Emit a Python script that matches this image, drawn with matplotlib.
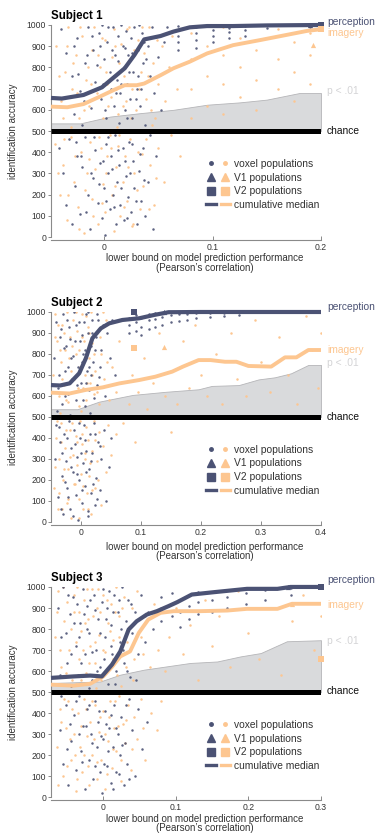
import numpy as np
import matplotlib
matplotlib.use("Agg")
import matplotlib.pyplot as plt
from matplotlib.lines import Line2D
from matplotlib.legend_handler import HandlerTuple

plt.rcParams['font.family'] = ['Liberation Sans', 'DejaVu Sans']

NAVY = "#4b5274"
PEACH = "#fdc690"
GRAY_FILL = "#d9dadc"
CHANCE = 500
YTICKS = list(range(0, 1001, 100))

# ---------------- Subject 1 ----------------
S1_PERC_X = [-0.049, -0.039, -0.019, -0.002, 0.019, 0.028, 0.037, 0.052, 0.064, 0.079, 0.095, 0.119, 0.15, 0.2]
S1_PERC_Y = [656, 653, 670, 706, 796, 859, 932, 948, 969, 989, 995, 995, 998, 1000]
S1_IMAG_X = [-0.049, -0.034, -0.019, -0.004, 0.010, 0.019, 0.030, 0.037, 0.052, 0.064, 0.079, 0.095, 0.119, 0.144, 0.168, 0.187, 0.2]
S1_IMAG_Y = [615, 612, 627, 662, 696, 716, 716, 724, 763, 796, 827, 866, 905, 929, 953, 972, 980]
S1_P01_X = [-0.049, -0.022, 0.0055, 0.033, 0.064, 0.095, 0.125, 0.15, 0.18, 0.2]
S1_P01_Y = [536, 536, 568, 584, 600, 624, 635, 648, 679, 679]
# voxel populations, x in thousandths of r
S1_NAVY = [(-40, 980), (-35, 870), (-30, 760), (-25, 940), (-22, 690), (-18, 820), (-15, 990), (-12, 610), (-10, 880), (-8, 730),
           (-5, 960), (-3, 650), (0, 840), (2, 560), (3, 920), (5, 780), (6, 700), (8, 990), (9, 620), (10, 860), (12, 740),
           (13, 950), (14, 540), (15, 680), (17, 900), (18, 800), (19, 600), (20, 970), (21, 720), (22, 860), (24, 650),
           (25, 940), (26, 560), (27, 780), (28, 990), (30, 700), (31, 880), (33, 620), (35, 960), (36, 820), (38, 530),
           (40, 900), (42, 760), (44, 990), (46, 680), (48, 950), (50, 850), (52, 600), (55, 920), (58, 990), (-28, 580),
           (-20, 530), (-2, 1000), (16, 1000), (32, 1000),
           (-28, 900), (-24, 770), (-19, 640), (-16, 860), (-11, 950), (-7, 810), (-4, 900), (-1, 720), (1, 600), (4, 990),
           (7, 880), (9, 760), (11, 680), (13, 830), (16, 720), (19, 890), (21, 560), (23, 780), (26, 870), (29, 650),
           (31, 760), (34, 700), (37, 920), (39, 840),
           (-42, 420), (-38, 300), (-35, 150), (-32, 460), (-30, 60), (-27, 240), (-25, 380), (-22, 110), (-20, 330),
           (-18, 470), (-15, 200), (-13, 40), (-10, 280), (-8, 410), (-6, 160), (-4, 350), (-2, 90), (0, 230), (1, 10),
           (2, 440), (4, 300), (5, 130), (6, 380), (8, 200), (10, 480), (11, 60), (12, 260), (14, 340), (15, 150), (17, 420),
           (18, 80), (20, 290), (22, 190), (23, 450), (25, 120), (27, 360), (28, 230), (30, 60), (32, 310), (34, 170),
           (36, 420), (38, 100), (40, 260), (42, 480), (45, 40), (48, 380),
           (-26, 450), (-21, 380), (-17, 120), (-12, 300), (-9, 470), (-5, 250), (-1, 360), (2, 170), (4, 470), (7, 320),
           (9, 140), (13, 410), (16, 230), (19, 360), (21, 90), (24, 300), (26, 440), (29, 170), (33, 390), (37, 270),
           (68, 880), (68, 920), (68, 950), (68, 975), (68, 995), (85, 890), (85, 930), (85, 960), (85, 990),
           (100, 920), (100, 950), (100, 975), (100, 995), (115, 940), (115, 965), (115, 985), (130, 950), (130, 975),
           (130, 995), (150, 985), (150, 1000), (190, 990)]
S1_PEACH = [(-44, 900), (-40, 640), (-36, 780), (-33, 990), (-30, 700), (-26, 860), (-23, 560), (-20, 950), (-17, 740),
            (-14, 620), (-11, 880), (-9, 990), (-7, 680), (-4, 800), (-1, 560), (1, 930), (3, 720), (4, 620), (7, 850),
            (9, 980), (11, 700), (13, 580), (16, 910), (18, 760), (20, 640), (23, 990), (24, 840), (26, 700), (29, 600),
            (31, 930), (34, 780), (37, 870), (39, 650), (41, 990), (45, 820), (47, 560), (50, 720), (53, 900), (56, 640),
            (60, 800), (63, 950), (67, 700), (-31, 520), (12, 520), (44, 530),
            (-42, 760), (-38, 560), (-34, 900), (-29, 820), (-25, 680), (-22, 990), (-19, 600), (-15, 800), (-12, 720),
            (-6, 860), (-2, 940), (2, 780), (6, 660), (10, 900), (14, 820), (17, 620), (21, 980), (25, 560), (28, 880),
            (32, 700), (35, 990), (40, 760), (43, 600), (49, 930),
            (-45, 440), (-41, 200), (-38, 340), (-34, 80), (-31, 470), (-28, 260), (-24, 140), (-21, 400), (-19, 20),
            (-16, 300), (-13, 450), (-11, 180), (-8, 320), (-6, 60), (-3, 420), (-1, 250), (1, 120), (3, 380), (5, 480),
            (7, 200), (9, 30), (11, 330), (13, 430), (15, 100), (17, 260), (19, 380), (21, 170), (24, 460), (26, 50),
            (28, 300), (31, 400), (33, 130), (36, 240), (39, 460), (42, 340), (46, 150), (50, 420), (55, 260), (62, 480),
            (70, 380),
            (-43, 300), (-37, 460), (-33, 200), (-27, 380), (-23, 40), (-18, 220), (-14, 370), (-10, 100), (-5, 470),
            (-2, 160), (2, 300), (6, 420), (10, 240), (14, 480), (18, 140), (22, 330), (27, 60), (30, 220), (35, 390),
            (41, 130), (48, 280),
            (80, 560), (80, 700), (80, 840), (80, 960), (95, 620), (95, 760), (95, 900), (110, 580), (110, 720), (110, 860),
            (110, 990), (125, 660), (125, 800), (125, 940), (140, 600), (140, 740), (140, 880), (160, 700), (160, 840),
            (160, 980), (175, 640), (175, 780), (175, 920), (190, 720), (190, 860), (190, 960)]
S1_V1 = [(0.19, 1000), (0.193, 905)]
S1_V2 = [(0.2, 1000), (0.2, 980)]
S1_LABEL_Y = [1015, 961, 690, 501]

# ---------------- Subject 2 ----------------
S2_PERC_X = [-0.05, -0.035, -0.019, -0.003, 0.008, 0.019, 0.033, 0.047, 0.069, 0.097, 0.122, 0.146, 0.2, 0.3, 0.4]
S2_PERC_Y = [652, 650, 660, 708, 779, 875, 922, 946, 962, 970, 986, 999, 1000, 1000, 1000]
S2_IMAG_X = [-0.05, -0.019, 0.008, 0.036, 0.064, 0.097, 0.124, 0.152, 0.17, 0.196, 0.216, 0.24, 0.259, 0.279, 0.317, 0.34, 0.359, 0.379, 0.4]
S2_IMAG_Y = [616, 612, 629, 641, 660, 676, 692, 716, 740, 771, 771, 763, 763, 743, 740, 784, 784, 819, 819]
S2_P01_X = [-0.05, -0.006, 0.030, 0.086, 0.141, 0.196, 0.218, 0.263, 0.296, 0.323, 0.350, 0.379, 0.4]
S2_P01_Y = [537, 537, 573, 605, 620, 632, 648, 652, 679, 689, 708, 748, 748]
S2_NAVY = [(-45, 780), (-42, 950), (-38, 640), (-35, 880), (-32, 560), (-30, 990), (-27, 720), (-25, 840), (-22, 610),
           (-20, 930), (-17, 780), (-15, 680), (-12, 1000), (-10, 860), (-8, 580), (-5, 740), (-3, 950), (0, 660),
           (2, 890), (4, 800), (6, 550), (8, 990), (10, 720), (12, 900), (14, 630), (16, 840), (18, 960), (20, 760),
           (22, 590), (25, 880), (27, 990), (30, 690), (33, 820), (36, 940), (40, 600), (44, 900), (48, 780), (52, 960),
           (56, 700), (-40, 530), (-18, 510), (15, 520),
           (-36, 700), (-33, 920), (-29, 830), (-26, 600), (-24, 960), (-21, 740), (-19, 870), (-14, 790), (-9, 940),
           (-6, 650), (-2, 860), (1, 760), (3, 580), (5, 950), (7, 820), (9, 660), (11, 1000), (13, 740), (17, 700),
           (19, 900), (23, 820), (26, 650), (29, 960), (32, 740),
           (-44, 300), (-41, 460), (-38, 120), (-35, 380), (-32, 220), (-30, 40), (-28, 420), (-25, 290), (-23, 160),
           (-20, 480), (-18, 60), (-16, 350), (-13, 240), (-11, 440), (-9, 130), (-7, 310), (-5, 10), (-3, 200),
           (-1, 400), (1, 90), (3, 280), (5, 460), (7, 170), (9, 340), (11, 50), (13, 250), (15, 420), (17, 140),
           (19, 330), (21, 470), (23, 80), (25, 210), (28, 380), (31, 150), (34, 300), (38, 440), (42, 100), (46, 260),
           (50, 400),
           (-37, 450), (-34, 60), (-31, 330), (-27, 190), (-24, 400), (-21, 120), (-17, 260), (-14, 30), (-10, 370),
           (-6, 230), (-4, 470), (0, 330), (2, 150), (6, 390), (8, 240), (12, 30), (16, 290), (20, 180), (24, 420),
           (27, 110), (32, 360),
           (80, 900), (80, 940), (80, 970), (91, 910), (91, 950), (91, 985), (100, 890), (100, 930), (100, 970),
           (113, 920), (113, 960), (113, 990), (124, 930), (124, 965), (124, 995), (135, 940), (135, 975), (150, 950),
           (150, 985), (163, 955), (163, 990), (177, 960), (177, 990), (191, 970), (191, 995), (215, 975), (215, 995),
           (238, 980), (238, 995), (263, 985), (263, 1000)]
S2_PEACH = [(-46, 700), (-43, 990), (-40, 860), (-37, 600), (-34, 760), (-31, 940), (-28, 650), (-26, 820), (-23, 1000),
            (-21, 570), (-18, 880), (-16, 720), (-13, 960), (-11, 620), (-8, 800), (-6, 910), (-4, 550), (-1, 740),
            (1, 990), (3, 640), (5, 860), (7, 700), (9, 580), (11, 930), (13, 780), (15, 660), (17, 1000), (19, 850),
            (22, 610), (24, 720), (27, 900), (30, 560), (34, 800), (38, 680), (42, 960), (47, 580), (52, 740), (58, 620),
            (64, 860), (-35, 520), (0, 530),
            (-44, 880), (-41, 620), (-38, 940), (-35, 820), (-32, 680), (-29, 900), (-25, 580), (-20, 780), (-15, 840),
            (-12, 680), (-9, 1000), (-5, 640), (-3, 820), (2, 880), (4, 760), (8, 980), (10, 660), (14, 900), (18, 700),
            (21, 800), (26, 620), (31, 880), (36, 1000), (44, 760),
            (-45, 160), (-42, 400), (-39, 60), (-36, 300), (-33, 470), (-30, 200), (-27, 350), (-24, 90), (-22, 250),
            (-19, 440), (-17, 20), (-14, 320), (-12, 180), (-9, 410), (-7, 270), (-4, 110), (-2, 480), (0, 230), (2, 370),
            (4, 60), (6, 300), (8, 450), (10, 140), (12, 390), (14, 220), (16, 40), (18, 340), (21, 480), (24, 160),
            (27, 290), (30, 430), (33, 80), (37, 360), (41, 240), (45, 460), (50, 320), (58, 420), (70, 470), (90, 380),
            (150, 430),
            (-43, 260), (-40, 480), (-37, 140), (-34, 380), (-31, 60), (-28, 250), (-25, 440), (-21, 110), (-18, 310),
            (-15, 470), (-10, 180), (-6, 380), (-3, 20), (1, 420), (3, 170), (7, 330), (11, 60), (15, 280), (19, 150),
            (23, 390), (28, 200),
            (80, 560), (85, 700), (95, 620), (105, 780), (110, 540), (120, 660), (130, 900), (140, 600), (150, 720),
            (160, 560), (170, 860), (180, 640), (190, 940), (200, 700), (210, 600), (225, 800), (235, 560), (250, 900),
            (260, 680), (275, 600), (290, 960), (300, 760), (315, 620), (330, 880), (345, 700), (360, 560), (375, 980),
            (385, 820), (395, 640), (400, 900)]
S2_V1 = [(0.138, 1000), (0.138, 835)]
S2_V2 = [(0.089, 1000), (0.089, 827)]
S2_LABEL_Y = [1024, 819, 757, 500]

# ---------------- Subject 3 ----------------
S3_PERC_X = [-0.072, -0.041, -0.018, -0.002, 0.012, 0.0235, 0.035, 0.046, 0.060, 0.074, 0.090, 0.102, 0.122, 0.152, 0.198, 0.24, 0.258, 0.3]
S3_PERC_Y = [568, 575, 579, 575, 631, 694, 798, 837, 869, 885, 909, 928, 964, 975, 991, 991, 1000, 1000]
S3_IMAG_X = [-0.072, -0.041, -0.018, 0.0, 0.012, 0.0235, 0.037, 0.049, 0.062, 0.079, 0.097, 0.134, 0.171, 0.198, 0.24, 0.26, 0.3]
S3_IMAG_Y = [536, 531, 540, 575, 620, 670, 694, 782, 845, 877, 885, 885, 888, 896, 896, 920, 920]
S3_P01_X = [-0.072, -0.004, 0.023, 0.056, 0.088, 0.12, 0.157, 0.189, 0.217, 0.253, 0.3]
S3_P01_Y = [544, 551, 583, 607, 623, 639, 646, 670, 686, 742, 747]
S3_NAVY = [(-62, 900), (-58, 760), (-55, 1000), (-50, 640), (-46, 870), (-42, 950), (-38, 720), (-35, 580), (-32, 830),
           (-28, 990), (-25, 680), (-22, 910), (-19, 780), (-16, 560), (-13, 960), (-10, 700), (-7, 850), (-4, 620),
           (-1, 990), (2, 760), (5, 900), (7, 540), (10, 820), (12, 680), (15, 960), (18, 600), (20, 880), (23, 740),
           (26, 1000), (28, 640), (31, 840), (34, 940), (37, 570), (40, 780), (44, 880), (48, 680), (52, 960), (57, 740),
           (62, 880), (68, 800), (-45, 530), (-20, 520), (16, 540), (45, 560),
           (-60, 580), (-52, 780), (-48, 960), (-44, 680), (-40, 830), (-36, 920), (-33, 760), (-30, 640), (-26, 870),
           (-23, 800), (-18, 940), (-15, 690), (-11, 890), (-8, 600), (-5, 780), (-2, 930), (1, 660), (4, 850), (8, 980),
           (11, 720), (14, 880), (17, 660), (21, 940), (24, 800), (27, 700), (33, 600), (38, 920),
           (-60, 320), (-56, 160), (-52, 440), (-48, 60), (-44, 270), (-40, 390), (-37, 130), (-34, 480), (-31, 220),
           (-28, 340), (-25, 40), (-22, 420), (-20, 180), (-17, 300), (-14, 90), (-12, 460), (-9, 240), (-7, 360),
           (-4, 120), (-2, 20), (0, 280), (3, 410), (5, 150), (8, 330), (10, 70), (13, 240), (15, 440), (18, 120),
           (20, 300), (23, 200), (25, 380), (28, 60), (30, 260), (33, 160), (36, 470), (40, 320), (44, 100), (48, 420),
           (54, 230), (60, 360),
           (-58, 480), (-50, 230), (-46, 350), (-38, 460), (-33, 300), (-29, 170), (-24, 340), (-19, 440), (-15, 260),
           (-11, 150), (-6, 410), (-3, 290), (1, 160), (4, 350), (7, 220), (11, 390), (14, 40), (17, 330), (22, 110),
           (26, 250), (31, 440), (35, 90),
           (79, 840), (79, 900), (79, 950), (95, 860), (95, 920), (95, 970), (106, 810), (106, 880), (106, 940),
           (118, 850), (118, 910), (118, 960), (131, 870), (131, 930), (131, 975), (150, 880), (150, 940), (171, 900),
           (171, 950), (171, 985), (196, 920), (196, 970), (223, 940), (223, 985), (258, 960), (258, 995)]
S3_PEACH = [(-66, 760), (-62, 980), (-58, 620), (-54, 840), (-50, 930), (-47, 700), (-43, 560), (-40, 880), (-36, 1000),
            (-33, 660), (-30, 790), (-27, 940), (-24, 590), (-21, 850), (-18, 720), (-15, 990), (-12, 640), (-9, 900),
            (-6, 770), (-3, 560), (0, 960), (3, 690), (6, 830), (8, 610), (11, 920), (14, 750), (17, 1000), (19, 580),
            (22, 860), (25, 700), (28, 950), (31, 620), (35, 810), (39, 900), (43, 660), (47, 980), (52, 760), (58, 860),
            (64, 620), (70, 920), (76, 700), (-38, 540), (-10, 520), (24, 530),
            (-64, 880), (-60, 700), (-56, 1000), (-52, 590), (-45, 800), (-41, 960), (-37, 740), (-34, 880), (-31, 560),
            (-28, 700), (-25, 830), (-22, 990), (-19, 640), (-14, 860), (-11, 740), (-7, 990), (-4, 880), (-1, 700),
            (2, 590), (5, 940), (9, 790), (13, 660), (16, 880), (21, 760), (26, 900), (33, 740), (41, 560), (55, 680),
            (-64, 240), (-60, 420), (-56, 100), (-52, 330), (-48, 460), (-45, 180), (-41, 300), (-38, 30), (-35, 400),
            (-32, 240), (-29, 120), (-26, 470), (-23, 290), (-20, 60), (-18, 360), (-15, 200), (-12, 440), (-9, 90),
            (-6, 310), (-3, 180), (0, 410), (3, 40), (6, 270), (9, 460), (12, 140), (15, 330), (18, 220), (21, 480),
            (24, 80), (27, 350), (30, 260), (34, 440), (38, 130), (42, 380), (47, 280), (52, 470), (58, 180), (66, 400),
            (74, 320), (80, 460),
            (-62, 60), (-58, 360), (-54, 470), (-50, 150), (-46, 280), (-43, 420), (-39, 200), (-36, 90), (-30, 340),
            (-27, 200), (-24, 420), (-21, 150), (-16, 460), (-13, 280), (-8, 170), (-4, 380), (2, 300), (5, 110),
            (8, 380), (13, 230), (16, 460), (20, 340), (25, 180), (31, 370), (40, 230), (55, 330),
            (85, 600), (90, 760), (100, 900), (110, 680), (120, 820), (130, 560), (140, 940), (150, 720), (160, 860),
            (175, 620), (185, 980), (200, 780), (215, 660), (230, 900), (245, 580), (260, 840), (275, 960), (290, 700),
            (300, 860)]
S3_V1 = [(0.255, 1000), (0.26, 920)]
S3_V2 = [(0.3, 1000), (0.3, 658)]
S3_LABEL_Y = [1031, 912, 745, 507]

SUBJECTS = ["Subject 1", "Subject 2", "Subject 3"]
XLIMS = [(-0.049, 0.2), (-0.05, 0.4), (-0.072, 0.3)]
XTICKS = [[0, 0.1, 0.2], [0, 0.1, 0.2, 0.3, 0.4], [0, 0.1, 0.2, 0.3]]
XTICKLABELS = [["0", "0.1", "0.2"], ["0", "0.1", "0.2", "0.3", "0.4"], ["0", "0.1", "0.2", "0.3"]]
RIGHT_LABELS = ["perception", "imagery", "p < .01", "chance"]
RIGHT_COLORS = [NAVY, PEACH, "#d4d4d6", "#111111"]

panels = [
    (S1_PERC_X, S1_PERC_Y, S1_IMAG_X, S1_IMAG_Y, S1_P01_X, S1_P01_Y, S1_NAVY, S1_PEACH, S1_V1, S1_V2, S1_LABEL_Y),
    (S2_PERC_X, S2_PERC_Y, S2_IMAG_X, S2_IMAG_Y, S2_P01_X, S2_P01_Y, S2_NAVY, S2_PEACH, S2_V1, S2_V2, S2_LABEL_Y),
    (S3_PERC_X, S3_PERC_Y, S3_IMAG_X, S3_IMAG_Y, S3_P01_X, S3_P01_Y, S3_NAVY, S3_PEACH, S3_V1, S3_V2, S3_LABEL_Y),
]

# axes rectangles in figure fractions (left, bottom, width, height)
RECTS = [(0.136, 0.7165, 0.72, 0.2536), (0.136, 0.3756, 0.72, 0.2512), (0.136, 0.0461, 0.72, 0.2518)]
XLABEL_Y = [-0.077, -0.094, -0.078]

fig = plt.figure(figsize=(3.75, 8.36), dpi=100)

for i, p in enumerate(panels):
    perc_x, perc_y, imag_x, imag_y, p01_x, p01_y, navy, peach, v1, v2, lab_y = p
    ax = fig.add_axes(RECTS[i])

    ax.fill_between(p01_x, CHANCE, p01_y, color=GRAY_FILL, edgecolor="#b5b5b8", lw=0.6, zorder=1)

    nx, ny = np.array(navy, dtype=float).T
    px_, py_ = np.array(peach, dtype=float).T
    ax.scatter(px_ / 1000, py_, s=3.2, color=PEACH, lw=0, zorder=2)
    ax.scatter(nx / 1000, ny, s=3.2, color=NAVY, lw=0, alpha=0.9, zorder=2)

    ax.axhline(CHANCE, color="black", lw=3.6, zorder=3, solid_capstyle="butt")
    ax.plot(imag_x, imag_y, color=PEACH, lw=2.8, zorder=4, clip_on=False, solid_capstyle="butt")
    ax.plot(perc_x, perc_y, color=NAVY, lw=3.0, zorder=5, clip_on=False, solid_capstyle="butt")

    ax.scatter([v1[0][0]], [v1[0][1]], marker="^", s=14, color=NAVY, lw=0, zorder=6, clip_on=False)
    ax.scatter([v1[1][0]], [v1[1][1]], marker="^", s=14, color=PEACH, lw=0, zorder=6, clip_on=False)
    ax.scatter([v2[0][0]], [v2[0][1]], marker="s", s=14, color=NAVY, lw=0, zorder=6, clip_on=False)
    ax.scatter([v2[1][0]], [v2[1][1]], marker="s", s=14, color=PEACH, lw=0, zorder=6, clip_on=False)

    ax.set_xlim(*XLIMS[i])
    ax.set_ylim(0, 1000)
    ax.set_xticks(XTICKS[i])
    ax.set_xticklabels(XTICKLABELS[i])
    ax.set_yticks(YTICKS)
    ax.set_yticklabels([str(v) for v in YTICKS])

    for s in ["top", "right"]:
        ax.spines[s].set_visible(False)
    for s in ["left", "bottom"]:
        ax.spines[s].set_color("#8a8a8a")
        ax.spines[s].set_linewidth(0.8)
    ax.spines["bottom"].set_position(("outward", 2))
    ax.tick_params(axis="x", direction="in", length=3, width=0.7, color="#8a8a8a",
                   labelsize=6.2, labelcolor="#333333", pad=2)
    ax.tick_params(axis="y", direction="out", length=2, width=0.7, color="#8a8a8a",
                   labelsize=6.2, labelcolor="#333333", pad=1.5)

    ax.set_title(SUBJECTS[i], loc="left", fontsize=8.3, fontweight="bold", pad=4)
    ax.set_ylabel("identification accuracy", fontsize=7, color="#333333")
    ax.yaxis.set_label_coords(-0.124, 0.5)
    ax.set_xlabel("lower bound on model prediction performance\n(Pearson\u2019s correlation)",
                  fontsize=7, color="#333333", linespacing=0.95)
    ax.xaxis.set_label_coords(0.57, XLABEL_Y[i])
    ax.xaxis.label.set_va("top")

    trans = ax.get_yaxis_transform()
    for lab, col, yv in zip(RIGHT_LABELS, RIGHT_COLORS, lab_y):
        ax.text(1.022, yv, lab, transform=trans, fontsize=7.4, color=col, va="center", ha="left")

    handles = [
        (Line2D([], [], ls="", marker="o", ms=2.5, color=NAVY), Line2D([], [], ls="", marker="o", ms=2.5, color=PEACH)),
        (Line2D([], [], ls="", marker="^", ms=5.2, color=NAVY), Line2D([], [], ls="", marker="^", ms=5.2, color=PEACH)),
        (Line2D([], [], ls="", marker="s", ms=5.2, color=NAVY), Line2D([], [], ls="", marker="s", ms=5.2, color=PEACH)),
        (Line2D([], [], lw=2.4, color=NAVY), Line2D([], [], lw=2.4, color=PEACH)),
    ]
    labels = ["voxel populations", "V1 populations", "V2 populations", "cumulative median"]
    ax.legend(handles, labels, handler_map={tuple: HandlerTuple(ndivide=None, pad=0.5)},
              loc="upper left", bbox_to_anchor=(0.575, 0.368), frameon=False, fontsize=7.4,
              handlelength=2.3, handletextpad=0.4, labelspacing=0.36, borderpad=0, borderaxespad=0,
              labelcolor="#333333")

fig.savefig("out.png", dpi=100)
